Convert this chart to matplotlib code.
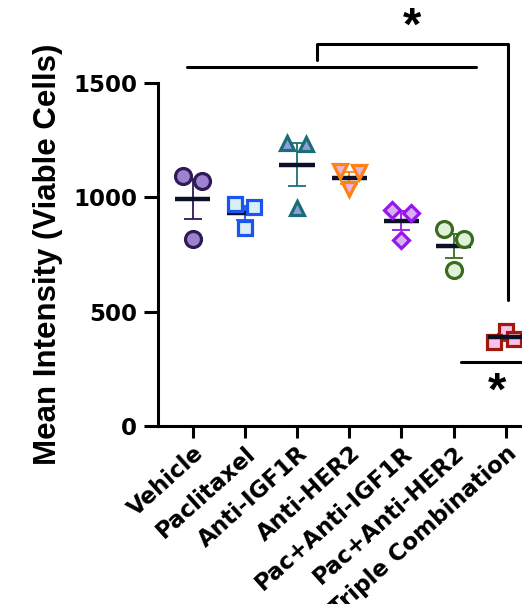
import matplotlib
matplotlib.use("Agg")
import matplotlib.pyplot as plt
import matplotlib.transforms as mtransforms
import numpy as np

plt.rcParams['font.family'] = ['DejaVu Sans']
plt.rcParams['font.weight'] = 'bold'

groups = ["Vehicle", "Paclitaxel", "Anti-IGF1R", "Anti-HER2",
          "Pac+Anti-IGF1R", "Pac+Anti-HER2", "Triple Combination"]
values = [
    [1092, 1070, 817],
    [971, 956, 868],
    [1240, 1235, 955],
    [1115, 1110, 1035],
    [946, 932, 815],
    [861, 818, 683],
    [417, 365, 380],
]
jitter = [
    [-0.19, 0.17, 0.0],
    [-0.19, 0.18, 0.0],
    [-0.19, 0.18, 0.0],
    [-0.18, 0.19, 0.0],
    [-0.19, 0.18, 0.0],
    [-0.18, 0.19, 0.0],
    [0.0, -0.22, 0.15],
]
markers = ['o', 's', '^', 'v', 'D', 'o', 's']
edge_colors = ['#2e1a55', '#1a55ee', '#1b6e78', '#ff8210', '#9a14ee', '#3b6b1f', '#a01a0c']
face_colors = ['#9d82d2', '#d9eef5', '#8d9fd6', '#eab2e2', '#d2b2f2', '#e0f1d8', '#f9c2ea']
marker_sizes = [11.5, 9.8, 10.5, 10.5, 8.0, 11.5, 9.8]
mean_color = '#0b1026'
arial_like = ['Liberation Sans', 'DejaVu Sans']

fig = plt.figure(figsize=(5.22, 6.04), dpi=100)
ax = fig.add_axes([158 / 522, 1 - 425.7 / 604, 1 - 158 / 522, (425.7 - 83.3) / 604])

for i, (vals, jit) in enumerate(zip(values, jitter)):
    vals = np.asarray(vals, dtype=float)
    mean = vals.mean()
    sem = vals.std(ddof=1) / np.sqrt(len(vals))
    ax.errorbar(i, mean, yerr=sem, fmt='none', ecolor=edge_colors[i],
                elinewidth=1.3, capsize=6.8, capthick=1.3, zorder=2,
                clip_on=False)
    ax.plot([i - 0.34, i + 0.34], [mean, mean], color=mean_color, lw=3.2,
            solid_capstyle='butt', zorder=5 if i == 6 else 3, clip_on=True)
    ax.plot(i + np.asarray(jit), vals, linestyle='none', marker=markers[i],
            markersize=marker_sizes[i], markerfacecolor=face_colors[i],
            markeredgecolor=edge_colors[i], markeredgewidth=2.3, zorder=4,
            clip_on=False)

ax.set_xlim(-0.665, 6.31)
ax.set_ylim(0, 1500)
ax.set_yticks([0, 500, 1000, 1500])
ax.set_xticks(range(len(groups)))
ax.set_xticklabels(groups, rotation=42, ha='right', va='top',
                   rotation_mode='anchor', fontsize=16.5, fontweight='bold')
shift = mtransforms.ScaledTranslation(-6 / 100, -1 / 100, fig.dpi_scale_trans)
for lbl in ax.get_xticklabels():
    lbl.set_transform(lbl.get_transform() + shift)
ax.tick_params(axis='y', labelsize=16.5, length=10, width=2.2, pad=5)
ax.tick_params(axis='x', length=8.5, width=2.2, pad=3)
for lbl in ax.get_yticklabels():
    lbl.set_fontweight('bold')
for side in ['top', 'right']:
    ax.spines[side].set_visible(False)
for side in ['left', 'bottom']:
    ax.spines[side].set_linewidth(2.2)
ax.set_ylabel("Mean Intensity (Viable Cells)", fontsize=22.5, fontweight='bold',
              family=arial_like)
ax.yaxis.set_label_coords(-(158 - 63) / 364, 0.5)

# significance annotations
lw = 2.2
ax.plot([-0.11, 5.43], [1573, 1573], color='black', lw=lw, clip_on=False,
        solid_capstyle='round')
ax.plot([2.375, 2.375, 6.05, 6.05], [1600, 1670, 1670, 551], color='black',
        lw=lw, clip_on=False, solid_joinstyle='round', solid_capstyle='round')
ax.text(4.2, 1690, "*", ha='center', va='baseline', fontsize=34,
        fontweight='bold', family=arial_like, clip_on=False)
ax.plot([5.14, 6.31], [278, 278], color='black', lw=lw, clip_on=False,
        solid_capstyle='round')
ax.text(5.83, 93, "*", ha='center', va='baseline', fontsize=34,
        fontweight='bold', family=arial_like, clip_on=False)

fig.savefig("out.png", dpi=100)
